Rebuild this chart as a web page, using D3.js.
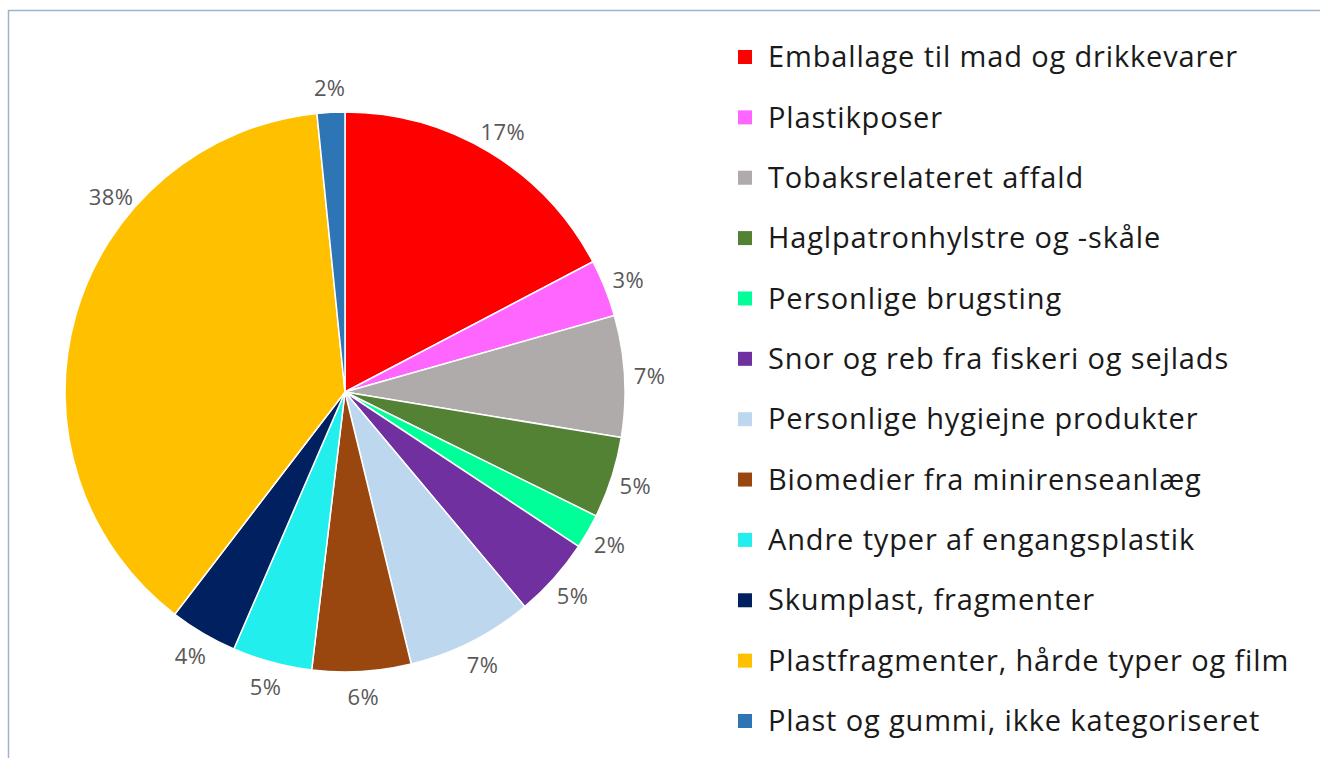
<!DOCTYPE html>
<meta charset="utf-8">
<head>
  <style>
    body { margin: 0; background: #fff; }
    .slice-label { font-family: "Open Sans", Arial; font-size: 22px; letter-spacing: 0.4px; fill: #595959; }
    .legend-text { font-family: "Open Sans", Arial; font-size: 29px; letter-spacing: 0.85px; fill: #1a1a1a; }
  </style>
</head>
<script src="https://d3js.org/d3.v7.min.js"></script>
<div id="chart"></div>
<script>
// categories, shares (%), colours
const categories = [
  "Emballage til mad og drikkevarer",
  "Plastikposer",
  "Tobaksrelateret affald",
  "Haglpatronhylstre og -skåle",
  "Personlige brugsting",
  "Snor og reb fra fiskeri og sejlads",
  "Personlige hygiejne produkter",
  "Biomedier fra minirenseanlæg",
  "Andre typer af engangsplastik",
  "Skumplast, fragmenter",
  "Plastfragmenter, hårde typer og film",
  "Plast og gummi, ikke kategoriseret"
];
const shares = [17.3, 3.3, 7.0, 4.7, 2.0, 4.6, 7.3, 5.7, 4.6, 3.9, 38.0, 1.6];
const labels = ["17%", "3%", "7%", "5%", "2%", "5%", "7%", "6%", "5%", "4%", "38%", "2%"];
const colours = ["#FF0000", "#FF66FF", "#AFABAB", "#548235", "#00FF99", "#7030A0",
                 "#BDD7EE", "#9A470F", "#23EEEE", "#002060", "#FFC000", "#2E75B6"];

const W = 1320, H = 758;
const CX = 345, CY = 392, R = 280;

// the big slice's label sits higher up in the original (dragged in Excel)
const labelShift = { "Plastfragmenter, hårde typer og film": 0.42 };

const svg = d3.select("#chart").append("svg")
  .attr("width", W).attr("height", H);

// chart frame (only top and left edges visible in the reference)
svg.append("rect")
  .attr("x", 8.5).attr("y", 10.5)
  .attr("width", W + 20).attr("height", H + 20)
  .attr("fill", "none")
  .attr("stroke", "#9DB3CC")
  .attr("stroke-width", 1.5);

const color = d3.scaleOrdinal().domain(categories).range(colours);

const pie = d3.pie().sort(null).value(d => d.value);
const rows = categories.map((c, i) => ({ key: c, value: shares[i], label: labels[i] }));
const arcs = pie(rows);

const g = svg.append("g").attr("transform", `translate(${CX},${CY})`);

const arc = d3.arc().innerRadius(0).outerRadius(R);
g.selectAll("path.slice")
  .data(arcs)
  .enter()
  .append("path")
  .attr("class", "slice")
  .attr("d", arc)
  .attr("fill", d => color(d.data.key))
  .attr("stroke", "#fff")
  .attr("stroke-width", 1.5);

// data labels just outside the rim
const LR = R + 25;
function labelPos(d) {
  const a = (d.startAngle + d.endAngle) / 2 + (labelShift[d.data.key] || 0);
  return [Math.sin(a) * LR, -Math.cos(a) * LR];
}
g.selectAll("text.slice-label")
  .data(arcs)
  .enter()
  .append("text")
  .attr("class", "slice-label")
  .attr("text-anchor", "middle")
  .attr("dominant-baseline", "central")
  .attr("transform", d => `translate(${labelPos(d)})`)
  .text(d => d.data.label);

// legend
const legendY = d3.scalePoint().domain(categories).range([57, 721]);
const legend = svg.append("g");
const item = legend.selectAll("g")
  .data(categories)
  .enter()
  .append("g")
  .attr("transform", d => `translate(738,${legendY(d)})`);

item.append("rect")
  .attr("x", 0).attr("y", -7)
  .attr("width", 14).attr("height", 14)
  .attr("fill", d => color(d));

item.append("text")
  .attr("class", "legend-text")
  .attr("x", 30)
  .attr("dy", "0.35em")
  .text(d => d);
</script>
